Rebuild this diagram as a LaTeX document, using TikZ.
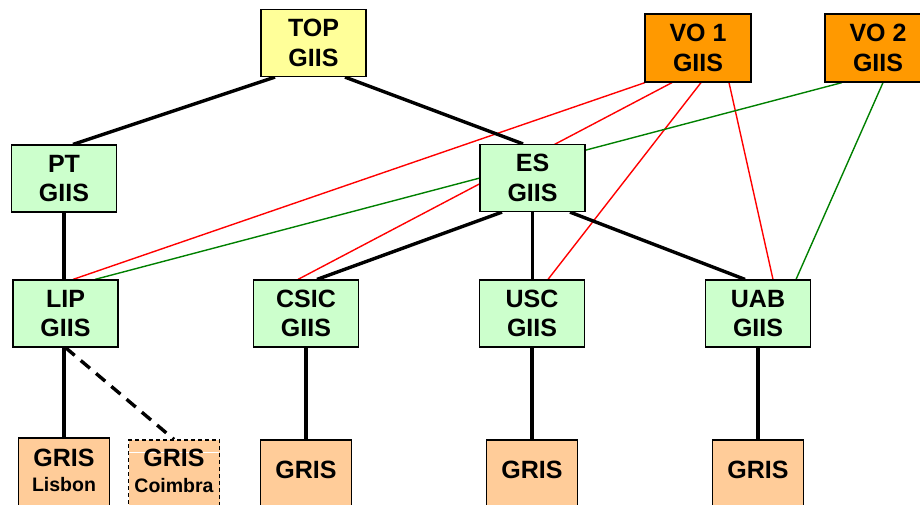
\documentclass[tikz,border=0pt]{standalone}
\usepackage{fontspec}
\setmainfont{Liberation Sans}
\usetikzlibrary{backgrounds}
\definecolor{giisgreen}{HTML}{CCFFCC}
\definecolor{topyellow}{HTML}{FFFF99}
\definecolor{voorange}{HTML}{FF9900}
\definecolor{grispeach}{HTML}{FFCC99}
\definecolor{linkred}{HTML}{FF0000}
\definecolor{linkgreen}{HTML}{008000}
\tikzset{
  giis/.style={draw=black, line width=1.2pt, fill=giisgreen, minimum width=105pt,
    minimum height=67pt, align=center, inner sep=0pt,
    font=\bfseries\fontsize{25}{29.5}\selectfont},
  topbox/.style={giis, fill=topyellow},
  vobox/.style={giis, fill=voorange, minimum width=106pt, minimum height=68pt},
  grisbox/.style={draw=black, line width=1.2pt, fill=grispeach, minimum width=91pt,
    minimum height=80pt, inner sep=0pt},
  gristext/.style={anchor=base, inner sep=0pt, font=\bfseries\fontsize{25}{29}\selectfont},
  subtext/.style={anchor=base, inner sep=0pt, font=\bfseries\fontsize{19.5}{21}\selectfont},
  treelink/.style={line width=3.4pt, draw=black},
  redlink/.style={line width=1.4pt, draw=linkred},
  greenlink/.style={line width=1.4pt, draw=linkgreen},
}
\begin{document}
\begin{tikzpicture}[x=1pt, y=-1pt]
\useasboundingbox (0,0) rectangle (920,504);
% GIIS boxes
\node[topbox] (top) at (313.5,43) {TOP\\GIIS};
\node[vobox] (vo1) at (698,48) {VO 1\\GIIS};
\node[vobox] (vo2) at (878,48) {VO 2\\GIIS};
\node[giis] (pt) at (64,178.5) {PT\\GIIS};
\node[giis] (es) at (532.5,178) {ES\\GIIS};
\node[giis] (lip) at (65.5,313.5) {LIP\\GIIS};
\node[giis] (csic) at (306,313.5) {CSIC\\GIIS};
\node[giis] (usc) at (532,313.5) {USC\\GIIS};
\node[giis] (uab) at (758,313.5) {UAB\\GIIS};
% GRIS boxes
\node[grisbox] (lisbon) at (64,478) {};
\node[gristext] at ([yshift=-28.7pt]lisbon.north) {GRIS};
\node[subtext] at ([yshift=-53.7pt]lisbon.north) {Lisbon};
\node[grisbox, dashed, dash pattern=on 4pt off 3pt] (coimbra) at (174,480) {};
\draw[white, line width=0.8pt] ([xshift=0.8pt, yshift=-13pt]coimbra.north west) -- ([xshift=-0.8pt, yshift=-13pt]coimbra.north east);
\node[gristext] at ([yshift=-26.7pt]coimbra.north) {GRIS};
\node[subtext] at ([yshift=-52.7pt]coimbra.north) {Coimbra};
\node[grisbox] (gcsic) at (306,480) {};
\node[gristext] at ([yshift=-39pt]gcsic.north) {GRIS};
\node[grisbox] (gusc) at (532,480) {};
\node[gristext] at ([yshift=-39pt]gusc.north) {GRIS};
\node[grisbox] (guab) at (758,480) {};
\node[gristext] at ([yshift=-39pt]guab.north) {GRIS};
\begin{scope}[on background layer]
% VO links
\draw[redlink] ([xshift=-53pt]vo1.south) -- ([xshift=7.5pt]lip.north);
\draw[redlink] ([xshift=-26pt]vo1.south) -- ([xshift=-8pt]csic.north);
\draw[redlink] ([xshift=3pt]vo1.south) -- ([xshift=16pt]usc.north);
\draw[redlink] ([xshift=31pt]vo1.south) -- ([xshift=15pt]uab.north);
\draw[greenlink] ([xshift=-36pt]vo2.south) -- ([xshift=29.5pt]lip.north);
\draw[greenlink] ([xshift=5pt]vo2.south) -- ([xshift=38pt]uab.north);
% hierarchy
\draw[treelink] ([xshift=-38.5pt]top.south) -- ([xshift=9pt]pt.north);
\draw[treelink] ([xshift=31.5pt]top.south) -- ([xshift=-9.5pt]es.north);
\draw[treelink] (pt.south) -- (pt.south |- lip.north);
\draw[treelink] ([xshift=-30.5pt]es.south) -- ([xshift=11pt]csic.north);
\draw[treelink] (es.south) -- (es.south |- usc.north);
\draw[treelink] ([xshift=37.5pt]es.south) -- ([xshift=-13pt]uab.north);
\draw[treelink] (lisbon.north |- lip.south) -- (lisbon.north);
\draw[treelink, dash pattern=on 12pt off 8pt] (lip.south) -- (coimbra.north);
\draw[treelink] (csic.south) -- (gcsic.north);
\draw[treelink] (usc.south) -- (gusc.north);
\draw[treelink] (uab.south) -- (guab.north);
\end{scope}
\end{tikzpicture}
\end{document}
